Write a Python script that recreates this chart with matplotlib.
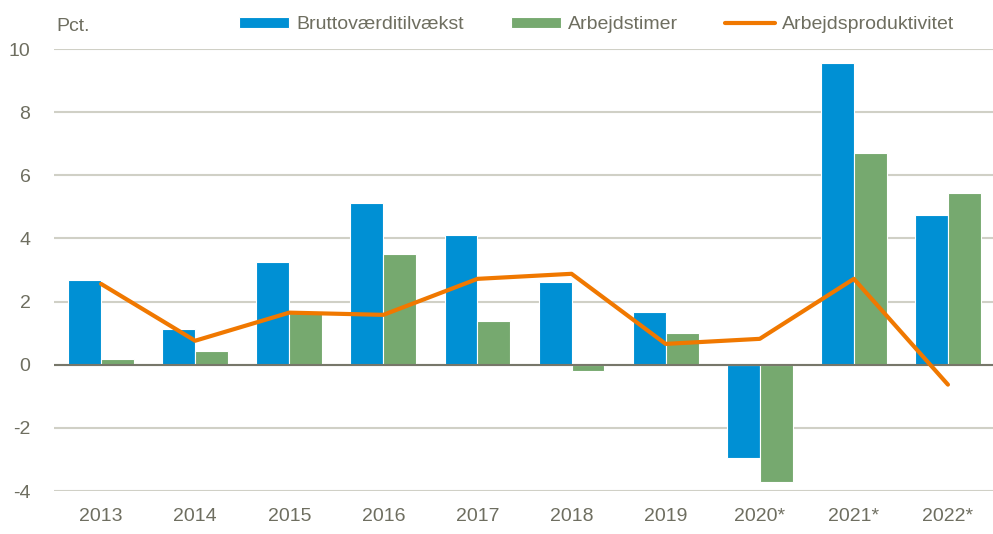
import matplotlib.pyplot as plt
import numpy as np

years = ["2013", "2014", "2015", "2016", "2017", "2018", "2019", "2020*", "2021*", "2022*"]
brutto = [2.68, 1.12, 3.26, 5.13, 4.12, 2.63, 1.68, -2.94, 9.56, 4.75]
timer = [0.17, 0.42, 1.65, 3.51, 1.39, -0.19, 1.01, -3.73, 6.71, 5.44]
produkt = [2.56, 0.76, 1.65, 1.58, 2.72, 2.88, 0.66, 0.82, 2.72, -0.63]

txt = "#6e6e60"
plt.rcParams['font.family'] = ['Liberation Sans Narrow', 'Liberation Sans', 'DejaVu Sans']
plt.rcParams['axes.unicode_minus'] = False

fig = plt.figure(figsize=(9.93, 5.34), dpi=100)
ax = fig.add_axes([0.0544, 0.0805, 0.9476, 0.8277])

x = np.arange(len(years))
w = 0.35
b1 = ax.bar(x - w / 2, brutto, w, color="#0090d4", edgecolor="white", linewidth=0.8,
            label="Bruttoværditilvækst", zorder=2)
b2 = ax.bar(x + w / 2, timer, w, color="#76a96f", edgecolor="white", linewidth=0.8,
            label="Arbejdstimer", zorder=2)
l1, = ax.plot(x, produkt, color="#f07800", linewidth=3, label="Arbejdsproduktivitet",
              zorder=3, solid_capstyle="round")

ax.set_xlim(-0.5, len(years) - 0.5)
ax.set_ylim(-4, 10)
ax.set_yticks(np.arange(-4, 11, 2))
ax.set_xticks(x)
ax.set_xticklabels(years)
ax.grid(axis="y", color="#d0d0c6", linewidth=1.5, zorder=0)
ax.axhline(0, color="#77776a", linewidth=1.5, zorder=2.5)
for s in ax.spines.values():
    s.set_visible(False)
ax.tick_params(length=0, labelsize=14, labelcolor=txt)
ax.tick_params(axis="y", pad=17)
ax.tick_params(axis="x", pad=12)

fig.text(0.057, 0.951, "Pct.", fontsize=14, color=txt, va="center", ha="left")

leg = ax.legend([b1, b2, l1], [b1.get_label(), b2.get_label(), l1.get_label()],
                ncol=3, loc="center right", bbox_to_anchor=(0.965, 1.055), frameon=False,
                fontsize=14, handlelength=2.6, handleheight=0.5, columnspacing=2.4,
                handletextpad=0.35, borderaxespad=0)
for t in leg.get_texts():
    t.set_color(txt)

fig.savefig("out.png", dpi=100)
